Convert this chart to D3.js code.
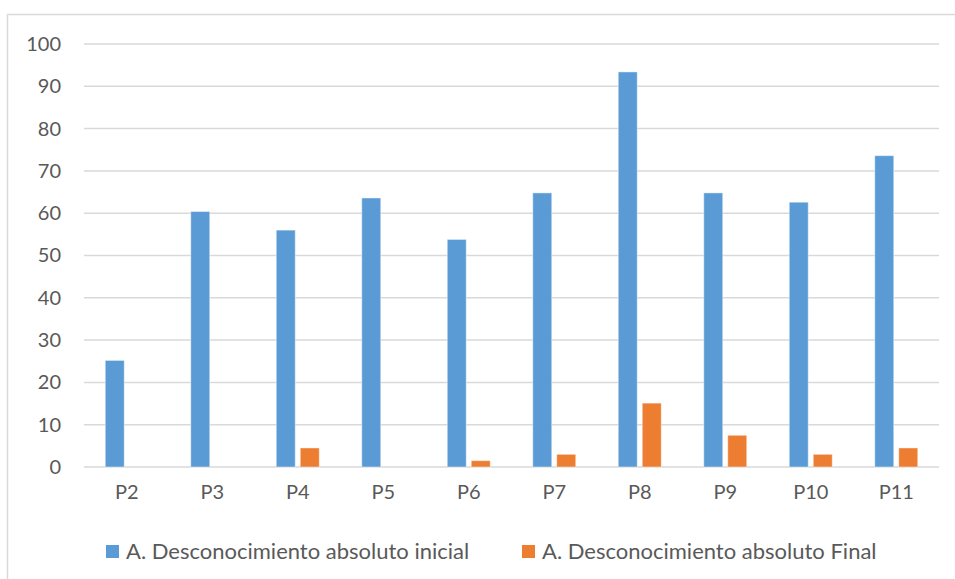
<!DOCTYPE html>
<html><head><meta charset="utf-8">
<script src="https://cdn.jsdelivr.net/npm/d3@7"></script>
<style>body{margin:0;background:#fff}svg{display:block}text{font-family:Lato,"Liberation Sans",sans-serif;fill:#595959}</style>
</head><body><svg id="c" width="955" height="579"></svg>
<script>
const categories = ["P2","P3","P4","P5","P6","P7","P8","P9","P10","P11"];
const seriesNames = ["A. Desconocimiento absoluto inicial","A. Desconocimiento absoluto Final"];
const inicial = [25.2,60.4,56,63.6,53.8,64.8,93.4,64.8,62.6,73.6];
const final = [0,0,4.5,0,1.5,3,15.1,7.5,3,4.5];
const yTicks = [0,10,20,30,40,50,60,70,80,90,100];
const colors = ["#5B9BD5","#ED7D31"];

const svg = d3.select("#c");
svg.append("rect").attr("x",7.5).attr("y",14.5).attr("width",960).attr("height",600)
  .attr("fill","none").attr("stroke","#d9d9d9").attr("stroke-width",1.5);

const L=84,R=939,T=44,B=467;
const x = d3.scaleBand().domain(categories).range([L,R]);
const y = d3.scaleLinear().domain([0,100]).range([B,T]);

const grid = svg.append("g");
grid.selectAll("line").data(yTicks).join("line")
  .attr("x1",L).attr("x2",R).attr("y1",d=>y(d)).attr("y2",d=>y(d))
  .attr("stroke","#d9d9d9").attr("stroke-width",1.5);

const yAxis = svg.append("g").attr("transform",`translate(${L},0)`)
  .call(d3.axisLeft(y).tickValues(yTicks).tickSize(0).tickPadding(23));
yAxis.select(".domain").remove();
yAxis.selectAll("text").attr("font-size",20).style("fill","#595959").style("font-family","Lato");

const xAxis = svg.append("g").attr("transform",`translate(0,${B})`)
  .call(d3.axisBottom(x).tickSize(0).tickPadding(18));
xAxis.select(".domain").remove();
xAxis.selectAll("text").attr("font-size",20).style("fill","#595959").style("font-family","Lato");

const bw = 19, gap = 5;
const series = [inicial, final];
series.forEach((vals,si)=>{
  svg.append("g").selectAll("rect").data(categories).join("rect")
    .attr("x",(c)=> x(c)+x.bandwidth()/2 + (si===0 ? -gap/2-bw : gap/2))
    .attr("width",bw)
    .attr("y",(c,i)=>y(vals[i]))
    .attr("height",(c,i)=>B-y(vals[i]))
    .attr("fill",colors[si])
    .attr("stroke","#fff").attr("stroke-opacity",0.45).attr("stroke-width",1);
});

const leg = svg.append("g");
const legX = [106,522];
seriesNames.forEach((n,i)=>{
  leg.append("rect").attr("x",legX[i]).attr("y",545).attr("width",13).attr("height",13).attr("fill",colors[i]);
  leg.append("text").attr("x",legX[i]+20).attr("y",559).attr("font-size",22).text(n);
});
</script></body></html>
